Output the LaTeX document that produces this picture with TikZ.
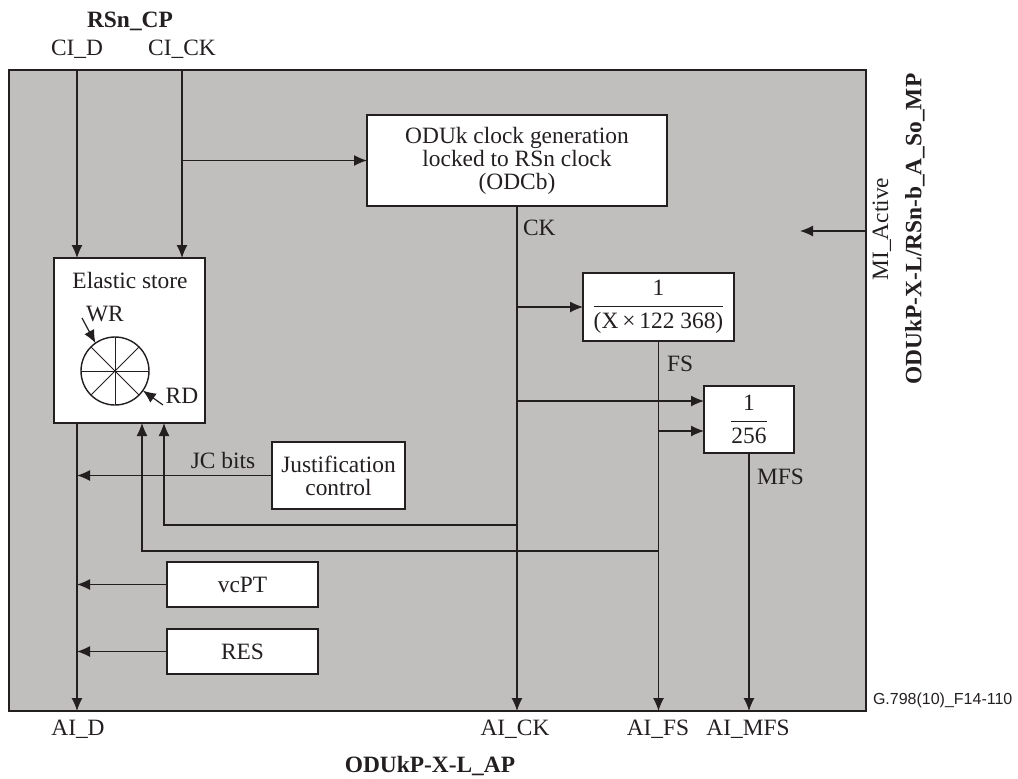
\documentclass[tikz,border=0pt]{standalone}
\usepackage{fontspec}
\setmainfont{Liberation Serif}
\newfontfamily\arialfont{Liberation Sans}
\usetikzlibrary{arrows.meta,calc}
\definecolor{bggray}{RGB}{192,191,189}
\definecolor{ink}{RGB}{35,31,32}
\tikzset{
  lbl/.style={inner sep=0pt, outer sep=0pt, anchor=base, text=ink},
  blk/.style={draw=ink, line width=0.8pt, fill=white, inner sep=0pt, outer sep=0pt, align=center, text=ink},
  arr/.style={draw=ink, line width=0.6pt, -{Latex[length=6.5pt,width=5.5pt]}},
  wire/.style={draw=ink, line width=0.6pt},
}
\begin{document}
\begin{tikzpicture}[x=0.5pt,y=-0.5pt,font=\fontsize{11.7}{11.5}\selectfont]
\useasboundingbox (0,0) rectangle (1018,778);
% frame
\node[draw=ink, line width=0.8pt, fill=bggray, inner sep=0pt, outer sep=0pt,
      minimum width=428.5pt, minimum height=320.5pt] (frame) at (437.5,390.5) {};
% boxes
\node[blk, minimum width=75.5pt, minimum height=82.5pt] (es) at (129.5,340.5) {};
\node[lbl] (estxt) at (130,288) {Elastic store};
\node[blk, minimum width=150pt, minimum height=45.5pt] (odu) at (517,160.5)
  {ODUk clock generation\\locked to RSn clock\\(ODCb)};
\node[blk, minimum width=75.5pt, minimum height=34pt] (div1) at (658.5,307)
  {$\displaystyle\frac{\mbox{1}}{\mbox{(X\,×\,122~368)}}$};
\node[blk, minimum width=45pt, minimum height=33.5pt] (div2) at (749,419.5)
  {$\displaystyle\frac{\mbox{1}}{\mbox{256}}$};
\node[blk, minimum width=66.5pt, minimum height=33.5pt] (jc) at (338.5,475.5)
  {Justification\\control};
\node[blk, minimum width=75.5pt, minimum height=22.5pt] (vcpt) at (242.5,584.5) {vcPT};
\node[blk, minimum width=75.5pt, minimum height=22.5pt] (res) at (242.5,651.5) {RES};
% ring
\node[draw=ink, line width=0.7pt, circle, minimum size=34pt, inner sep=0pt, outer sep=0pt] (ring) at (115,371) {};
\draw[wire, line width=0.5pt] (ring.north) -- (ring.south);
\draw[wire, line width=0.5pt] (ring.east) -- (ring.west);
\draw[wire, line width=0.5pt] (ring.45) -- (ring.225);
\draw[wire, line width=0.5pt] (ring.135) -- (ring.315);
\coordinate (wrs) at (82,318);
\coordinate (rds) at (163,405);
\draw[arr] (wrs) -- (ring.125);
\draw[arr] (rds) -- (ring.-35);
\node[lbl] (wr) at (105,321) {WR};
\node[lbl] (rd) at (182,403) {RD};
% top labels
\node[lbl] (rsncp) at (130,27) {\bfseries RSn\_CP};
\node[lbl] (cidl) at (77,55) {CI\_D};
\node[lbl] (cickl) at (182,55) {CI\_CK};
\coordinate (cid) at (77,70);
\coordinate (cick) at (182,70);
% inputs
\draw[arr] (cid) -- (cid |- es.north);
\draw[arr] (cick) -- (cick |- es.north);
\draw[arr] (cick |- odu.west) -- (odu.west);
% CK
\draw[arr] (odu.south) -- (odu.south |- frame.south);
\node[lbl, anchor=base west] (ckl) at (523,235) {CK};
\draw[arr] (odu.south |- div1.west) -- (div1.west);
% FS
\draw[arr] (div1.south) -- (div1.south |- frame.south);
\node[lbl, anchor=base west] (fsl) at (667,371) {FS};
\coordinate (d2a) at (704,401);
\coordinate (d2b) at (704,431);
\draw[arr] (odu.south |- d2a) -- (d2a);
\draw[arr] (div1.south |- d2b) -- (d2b);
% MFS
\draw[arr] (div2.south) -- (div2.south |- frame.south);
\node[lbl, anchor=base west] (mfsl) at (757,484) {MFS};
% AI_D
\draw[arr] (es.south -| cid) -- (cid |- frame.south);
\draw[arr] (jc.west) -- (jc.west -| cid);
\node[lbl] (jcb) at (223,468) {JC bits};
\draw[arr] (vcpt.west) -- (vcpt.west -| cid);
\draw[arr] (res.west) -- (res.west -| cid);
% feedback
\coordinate (fb1) at (164,525);
\coordinate (fb2) at (142,551);
\draw[arr] (odu.south |- fb1) -- (fb1) -- (fb1 |- es.south);
\draw[arr] (div1.south |- fb2) -- (fb2) -- (fb2 |- es.south);
% MI
\coordinate (mi) at (866,231);
\coordinate (miend) at (800,231);
\draw[arr] (mi) -- (miend);
\node[lbl, anchor=center, rotate=90] (mil) at (882,229) {MI\_Active};
\node[lbl, anchor=center, rotate=90] (mpl) at (915,229) {\bfseries ODUkP-X-L/RSn-b\_A\_So\_MP};
% bottom labels
\node[lbl] (aid) at (78,735) {AI\_D};
\node[lbl] (aick) at (515,735) {AI\_CK};
\node[lbl] (aifs) at (658,735) {AI\_FS};
\node[lbl] (aimfs) at (748,735) {AI\_MFS};
\node[lbl] (apl) at (430,772) {\bfseries ODUkP-X-L\_AP};
\node[lbl, anchor=west] (fig) at (873,700) {\arialfont\fontsize{8}{9}\selectfont G.798(10)\_F14-110};
\end{tikzpicture}
\end{document}
